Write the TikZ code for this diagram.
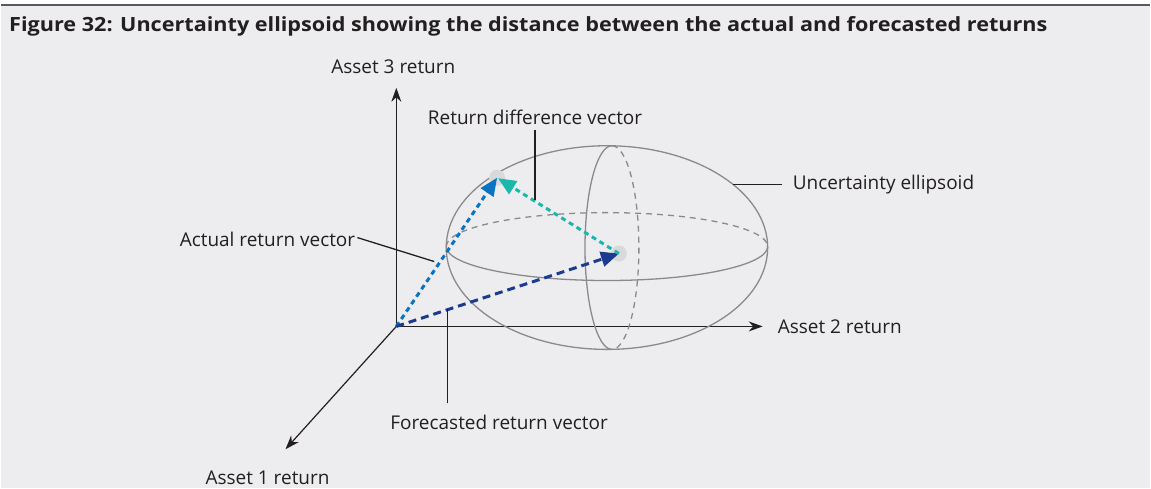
\documentclass[tikz,border=0pt]{standalone}
\usepackage{fontspec}
\setmainfont{Open Sans}
\usepackage{graphicx}
\usetikzlibrary{arrows.meta}

\definecolor{bggrey}{HTML}{EDEDEF}
\definecolor{rulegrey}{HTML}{58595B}
\definecolor{shellgrey}{HTML}{8A8A8C}
\definecolor{inkdark}{HTML}{231F20}
\definecolor{actblue}{HTML}{0A74C2}
\definecolor{forenavy}{HTML}{1B3C8E}
\definecolor{diffteal}{HTML}{1AB7AA}

\begin{document}
\begin{tikzpicture}[
        x=1pt, y=-1pt,
        >={Triangle[length=18pt,width=15pt]},
        axis/.style={draw=inkdark, line width=1.2pt, -{Stealth[length=14pt,width=10pt]}},
        shell/.style={draw=shellgrey, line width=1.3pt},
        hidden/.style={shell, dash pattern=on 6pt off 5pt},
        leader/.style={draw=inkdark, line width=1.3pt},
        lbl/.style={inner sep=0pt, text=inkdark, font=\fontsize{19}{22}\selectfont},
        vec/.style={line width=3pt, ->}
    ]
        % page
        \fill[white] (0,0) rectangle (1151,489);
        \fill[bggrey] (0,6) rectangle (1151,489);
        \draw[rulegrey, line width=2pt] (0,5) -- (1151,5);
        \useasboundingbox (0,0) rectangle (1151,489);
        \node[anchor=base west, inner sep=0pt, text=inkdark] (title) at (8,32)
            {\resizebox{1040pt}{15pt}{\bfseries Figure 32: Uncertainty ellipsoid showing the distance between the actual and forecasted returns}};

        % axes
        \coordinate (o) at (396,327);
        \coordinate (ax3) at (396,88);
        \coordinate (ax2) at (763,327);
        \coordinate (ax1) at (285,450);
        \draw[axis] (o) -- (ax3);
        \draw[axis] (o) -- (ax2);
        \draw[axis] (o) -- (ax1);
        \node[lbl] (l3) at (393,67) {Asset 3 return};
        \node[lbl, anchor=west] (l2) at (778,327) {Asset 2 return};
        \node[lbl] (l1) at (267,479) {Asset 1 return};

        % ellipsoid
        \draw[shell] (607,248) ellipse [x radius=161, y radius=102];
        \draw[shell] (768,247) arc [start angle=0, end angle=180, x radius=161, y radius=34];
        \draw[hidden] (446,247) arc [start angle=180, end angle=360, x radius=161, y radius=34];
        \draw[shell] (612,350) arc [start angle=90, end angle=270, x radius=27, y radius=102];
        \draw[hidden] (612,146) arc [start angle=270, end angle=450, x radius=27, y radius=102];

        % vectors
        \coordinate (a) at (497,178);
        \coordinate (f) at (619,254);
        \fill[black!15] (a) circle [radius=8];
        \fill[black!15] (f) circle [radius=8];
        \draw[vec, actblue, dash pattern=on 5pt off 4pt] (o) -- (a);
        \draw[vec, forenavy, dash pattern=on 8pt off 5pt] (o) -- (f);
        \draw[vec, diffteal, dash pattern=on 5pt off 4pt, shorten >=1pt] (f) -- (a);

        % labels
        \coordinate (rdvend) at (535,200);
        \coordinate (actend) at (434,262);
        \coordinate (foreend) at (447,310);
        \coordinate (uncend) at (733,185);
        \node[lbl] (rdv) at (535,118) {Return difference vector};
        \node[lbl, anchor=east] (act) at (355,240) {Actual return vector};
        \node[lbl] (fore) at (499,423) {Forecasted return vector};
        \node[lbl, anchor=west] (unc) at (793,185) {Uncertainty ellipsoid};
        \draw[leader] (rdv.south |- 0,130) -- (rdvend);
        \draw[leader] (act.east) ++(2,-2) -- (actend);
        \draw[leader] (foreend |- 0,404) -- (foreend);
        \draw[leader] (unc.west) ++(-11,0) -- (uncend);
\end{tikzpicture}
\end{document}
